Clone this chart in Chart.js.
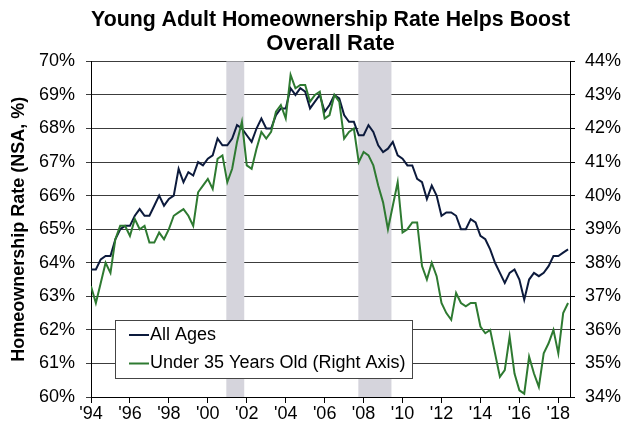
<!DOCTYPE html>
<html>
<head>
<meta charset="utf-8">
<title>Young Adult Homeownership Rate</title>
<script src="https://cdn.jsdelivr.net/npm/chart.js@4.4.1/dist/chart.umd.min.js"></script>
<style>
  html, body { margin: 0; padding: 0; background: #fff; }
  canvas { display: block; }
</style>
</head>
<body>
<canvas id="myChart" width="623" height="425"></canvas>
<script>
Chart.defaults.font.family = "'Liberation Sans', Arial, sans-serif";
Chart.defaults.color = "#000";

// quarterly data, 1994 Q1 .. 2018 Q3
var firstYear = 1994;

var allAges = [
  63.8, 63.8, 64.1, 64.2,
  64.2, 64.7, 65.0, 65.1,
  65.1, 65.4, 65.6, 65.4,
  65.4, 65.7, 66.0, 65.7,
  65.9, 66.0, 66.8, 66.4,
  66.7, 66.6, 67.0, 66.9,
  67.1, 67.2, 67.7, 67.5,
  67.5, 67.7, 68.1, 68.0,
  67.8, 67.6, 68.0, 68.3,
  68.0, 68.0, 68.4, 68.6,
  68.6, 69.2, 69.0, 69.2,
  69.1, 68.6, 68.8, 69.0,
  68.5, 68.7, 69.0, 68.9,
  68.4, 68.2, 68.2, 67.8,
  67.8, 68.1, 67.9, 67.5,
  67.3, 67.4, 67.6, 67.2,
  67.1, 66.9, 66.9, 66.5,
  66.4, 65.9, 66.3, 66.0,
  65.4, 65.5, 65.5, 65.4,
  65.0, 65.0, 65.3, 65.2,
  64.8, 64.7, 64.4, 64.0,
  63.7, 63.4, 63.7, 63.8,
  63.5, 62.9, 63.5, 63.7,
  63.6, 63.7, 63.9, 64.2,
  64.2, 64.3, 64.4
];

var under35 = [
  37.3, 36.8, 37.4, 38.0,
  37.7, 38.7, 39.1, 39.1,
  38.8, 39.3, 39.0, 39.1,
  38.6, 38.6, 38.9, 38.7,
  39.0, 39.4, 39.5, 39.6,
  39.4, 39.1, 40.1, 40.3,
  40.5, 40.2, 41.1, 41.2,
  40.4, 40.8, 41.6, 42.2,
  40.9, 40.8, 41.4, 41.9,
  41.7, 41.9, 42.5, 42.7,
  42.3, 43.6, 43.2, 43.3,
  43.3, 42.8, 43.0, 43.1,
  42.3, 42.4, 43.0, 42.8,
  41.7, 41.9, 42.0, 41.0,
  41.3, 41.2, 40.9, 40.3,
  39.8, 39.0, 39.7, 40.4,
  38.9, 39.0, 39.2, 39.2,
  37.9, 37.5, 38.0, 37.6,
  36.8, 36.5, 36.3, 37.1,
  36.8, 36.7, 36.8, 36.8,
  36.1, 35.9, 36.0, 35.3,
  34.6, 34.8, 35.8, 34.7,
  34.2, 34.1, 35.2, 34.7,
  34.3, 35.3, 35.6, 36.0,
  35.3, 36.5, 36.8
];

var tickYears = [1994, 1996, 1998, 2000, 2002, 2004, 2006, 2008, 2010, 2012, 2014, 2016, 2018];
var recessions = [[2000.95, 2001.87], [2007.73, 2009.43]];
var leftRange = [60, 70];
var rightRange = [34, 44];

var NAVY = "#0c1a3c";
var GREEN = "#2e7a31";

function toPoints(values) {
  return values.map(function (v, i) {
    return { x: firstYear + i / 4, y: v };
  });
}

// grey recession bars, under the lines
var recessionPlugin = {
  id: "recessions",
  beforeDatasetsDraw: function (chart) {
    var ctx = chart.ctx, area = chart.chartArea, xs = chart.scales.x;
    ctx.save();
    ctx.fillStyle = "#d5d4dc";
    recessions.forEach(function (r) {
      var x1 = xs.getPixelForValue(r[0]);
      var x2 = xs.getPixelForValue(r[1]);
      ctx.fillRect(x1, area.top, x2 - x1, area.bottom - area.top);
    });
    ctx.restore();
  }
};

// boxed legend inside the plot, bottom left
var boxLegend = {
  id: "boxLegend",
  afterDraw: function (chart) {
    var ctx = chart.ctx;
    var left = 115, top = 320, w = 297, h = 58;
    ctx.save();
    ctx.fillStyle = "#fff";
    ctx.fillRect(left, top, w, h);
    ctx.strokeStyle = "#444";
    ctx.lineWidth = 1;
    ctx.strokeRect(left + 0.5, top + 0.5, w, h);
    ctx.font = "18px 'Liberation Sans', Arial, sans-serif";
    ctx.textBaseline = "middle";
    chart.data.datasets.forEach(function (ds, i) {
      var y = top + 15 + i * 28.5;
      ctx.strokeStyle = ds.borderColor;
      ctx.lineWidth = 2;
      ctx.beginPath();
      ctx.moveTo(left + 14, y);
      ctx.lineTo(left + 34, y);
      ctx.stroke();
      ctx.fillStyle = "#000";
      ctx.fillText(ds.label, left + 35, y);
    });
    ctx.restore();
  }
};

var ctx = document.getElementById("myChart").getContext("2d");

var myChart = new Chart(ctx, {
  type: "line",
  data: {
    datasets: [
      {
        label: "All Ages",
        data: toPoints(allAges),
        borderColor: NAVY,
        borderWidth: 2,
        pointRadius: 0,
        yAxisID: "y",
        order: 1
      },
      {
        label: "Under 35 Years Old (Right Axis)",
        data: toPoints(under35),
        borderColor: GREEN,
        borderWidth: 2,
        pointRadius: 0,
        yAxisID: "y1",
        order: 0
      }
    ]
  },
  options: {
    responsive: false,
    animation: false,
    layout: { padding: { top: 4, left: 8, right: 0, bottom: 0 } },
    plugins: {
      legend: { display: false },
      tooltip: { enabled: false },
      title: {
        display: true,
        fullSize: false, // centre over the plot, not the canvas
        text: ["Young Adult Homeownership Rate Helps Boost", "Overall Rate"],
        color: "#000",
        font: { size: 22, weight: "bold", lineHeight: 1.1 },
        padding: { top: 4, bottom: 5 }
      }
    },
    scales: {
      x: {
        type: "linear",
        min: firstYear,
        max: 2018.6,
        afterBuildTicks: function (s) {
          s.ticks = tickYears.map(function (v) { return { value: v }; });
        },
        afterFit: function (s) { s.height = 28; },
        ticks: {
          autoSkip: false,
          maxRotation: 0,
          padding: 0,
          font: { size: 18 },
          callback: function (v) { return "'" + String(v).slice(2); }
        },
        grid: { drawOnChartArea: false, tickLength: 6, color: "#000" },
        border: { color: "#000" }
      },
      y: {
        position: "left",
        min: leftRange[0],
        max: leftRange[1],
        afterFit: function (s) { s.width = 83; },
        ticks: {
          stepSize: 1,
          padding: 11,
          font: { size: 18 },
          callback: function (v) { return v + "%"; }
        },
        grid: { color: "#3c3c3c", tickLength: 5 },
        border: { color: "#000" },
        title: {
          display: true,
          text: "Homeownership Rate (NSA, %)",
          color: "#000",
          font: { size: 18, weight: "bold" },
          padding: { top: 0, bottom: 0 }
        }
      },
      y1: {
        position: "right",
        min: rightRange[0],
        max: rightRange[1],
        afterFit: function (s) { s.width = 53; },
        ticks: {
          stepSize: 1,
          padding: 10,
          font: { size: 18 },
          callback: function (v) { return v + "%"; }
        },
        grid: { drawOnChartArea: false, color: "#000", tickLength: 5 },
        border: { color: "#000" }
      }
    }
  },
  plugins: [recessionPlugin, boxLegend]
});
</script>
</body>
</html>
